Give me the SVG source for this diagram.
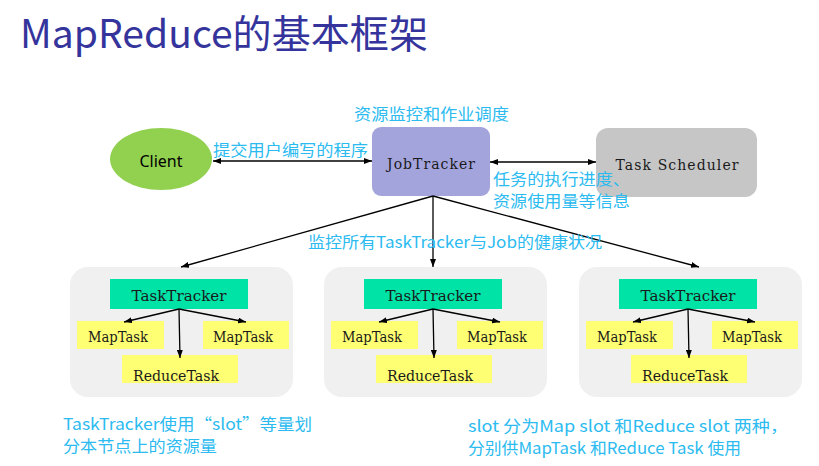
<svg xmlns="http://www.w3.org/2000/svg" width="819" height="466" viewBox="0 0 819 466">
<style>
.title{font-family:"Noto Sans CJK SC","Noto Sans",sans-serif;font-size:39px;fill:#34349c}
.note{font-family:"Noto Sans CJK SC",sans-serif;font-size:16px;fill:#2bbbf0}
.serif{font-family:"DejaVu Serif","Liberation Serif",serif;fill:#1a1a1a;text-anchor:middle}
.grp{fill:#f0f0f0}
.tt{fill:#00e3a7}
.task{fill:#ffff73}
.conn{stroke:#000;stroke-width:1.3;fill:none}
</style>
<defs>
<marker id="ah" viewBox="0 0 8 6" refX="8" refY="3" markerWidth="8" markerHeight="6" markerUnits="userSpaceOnUse" orient="auto-start-reverse">
<path d="M0,0 L8,3 L0,6 Z" fill="#000"/>
</marker>
</defs>
<rect width="819" height="466" fill="#fff"/>
<text class="title" x="20" y="48" textLength="408" lengthAdjust="spacingAndGlyphs">MapReduce的基本框架</text>

<g id="client">
<ellipse cx="161" cy="159" rx="51" ry="31" fill="#92d050"/>
<text x="161" y="167" text-anchor="middle" style="font-family:'Noto Sans','Liberation Sans',sans-serif;font-size:16px;fill:#000">Client</text>
</g>
<g id="jobtracker">
<rect x="372" y="127" width="118" height="69" rx="9" fill="#a4a4dd"/>
<text class="serif" x="431" y="169" font-size="14" textLength="88" lengthAdjust="spacing">JobTracker</text>
</g>
<g id="taskscheduler">
<rect x="596" y="128" width="161" height="69" rx="12" fill="#c6c6c6"/>
<text class="serif" x="677" y="170" font-size="14" textLength="123" lengthAdjust="spacing">Task Scheduler</text>
</g>

<g id="node1" transform="translate(70,0)">
<rect class="grp" x="0" y="267" width="223" height="130" rx="18"/>
<rect class="tt" x="40" y="279" width="138" height="30"/>
<text class="serif" x="109" y="301" font-size="15.5" textLength="95" lengthAdjust="spacingAndGlyphs">TaskTracker</text>
<rect class="task" x="7" y="321" width="87" height="28"/>
<text class="serif" x="48" y="342" font-size="15" textLength="60" lengthAdjust="spacingAndGlyphs">MapTask</text>
<rect class="task" x="133" y="321" width="86" height="28"/>
<text class="serif" x="173" y="342" font-size="15" textLength="60" lengthAdjust="spacingAndGlyphs">MapTask</text>
<rect class="task" x="52" y="355" width="116" height="28"/>
<text class="serif" x="106" y="381" font-size="15" textLength="86" lengthAdjust="spacingAndGlyphs">ReduceTask</text>
</g>
<g id="node2" transform="translate(324,0)">
<rect class="grp" x="0" y="267" width="223" height="130" rx="18"/>
<rect class="tt" x="40" y="279" width="138" height="30"/>
<text class="serif" x="109" y="301" font-size="15.5" textLength="95" lengthAdjust="spacingAndGlyphs">TaskTracker</text>
<rect class="task" x="7" y="321" width="87" height="28"/>
<text class="serif" x="48" y="342" font-size="15" textLength="60" lengthAdjust="spacingAndGlyphs">MapTask</text>
<rect class="task" x="133" y="321" width="86" height="28"/>
<text class="serif" x="173" y="342" font-size="15" textLength="60" lengthAdjust="spacingAndGlyphs">MapTask</text>
<rect class="task" x="52" y="355" width="116" height="28"/>
<text class="serif" x="106" y="381" font-size="15" textLength="86" lengthAdjust="spacingAndGlyphs">ReduceTask</text>
</g>
<g id="node3" transform="translate(579,0)">
<rect class="grp" x="0" y="267" width="223" height="130" rx="18"/>
<rect class="tt" x="40" y="279" width="138" height="30"/>
<text class="serif" x="109" y="301" font-size="15.5" textLength="95" lengthAdjust="spacingAndGlyphs">TaskTracker</text>
<rect class="task" x="7" y="321" width="87" height="28"/>
<text class="serif" x="48" y="342" font-size="15" textLength="60" lengthAdjust="spacingAndGlyphs">MapTask</text>
<rect class="task" x="133" y="321" width="86" height="28"/>
<text class="serif" x="173" y="342" font-size="15" textLength="60" lengthAdjust="spacingAndGlyphs">MapTask</text>
<rect class="task" x="52" y="355" width="116" height="28"/>
<text class="serif" x="106" y="381" font-size="15" textLength="86" lengthAdjust="spacingAndGlyphs">ReduceTask</text>
</g>

<g id="connectors" class="conn">
<line x1="213" y1="161" x2="372" y2="161" marker-start="url(#ah)" marker-end="url(#ah)"/>
<line x1="490" y1="162" x2="596" y2="162" marker-start="url(#ah)" marker-end="url(#ah)"/>
<line x1="433" y1="196" x2="181" y2="267" marker-end="url(#ah)"/>
<line x1="433" y1="196" x2="433" y2="267" marker-end="url(#ah)"/>
<line x1="433" y1="196" x2="699" y2="267" marker-end="url(#ah)"/>
<line x1="179" y1="309" x2="124" y2="322" marker-end="url(#ah)"/>
<line x1="179" y1="309" x2="180" y2="358" marker-end="url(#ah)"/>
<line x1="179" y1="309" x2="246" y2="322" marker-end="url(#ah)"/>
<line x1="433" y1="309" x2="379" y2="322" marker-end="url(#ah)"/>
<line x1="433" y1="309" x2="434" y2="358" marker-end="url(#ah)"/>
<line x1="433" y1="309" x2="500" y2="322" marker-end="url(#ah)"/>
<line x1="688" y1="309" x2="633" y2="322" marker-end="url(#ah)"/>
<line x1="688" y1="309" x2="689" y2="358" marker-end="url(#ah)"/>
<line x1="688" y1="309" x2="755" y2="322" marker-end="url(#ah)"/>
</g>

<g id="labels">
<text class="note" x="354" y="120" textLength="155" lengthAdjust="spacingAndGlyphs">资源监控和作业调度</text>
<text class="note" x="213" y="156" textLength="155" lengthAdjust="spacingAndGlyphs">提交用户编写的程序</text>
<text class="note" x="493" y="185" font-size="15" textLength="137" lengthAdjust="spacingAndGlyphs">任务的执行进度、</text>
<text class="note" x="493" y="207" font-size="15" textLength="137" lengthAdjust="spacingAndGlyphs">资源使用量等信息</text>
<text class="note" x="308" y="248" textLength="294" lengthAdjust="spacingAndGlyphs">监控所有TaskTracker与Job的健康状况</text>
<text class="note" x="63" y="430" font-size="15" textLength="249" lengthAdjust="spacingAndGlyphs">TaskTracker使用“slot”等量划</text>
<text class="note" x="63" y="452" font-size="15" textLength="154" lengthAdjust="spacingAndGlyphs">分本节点上的资源量</text>
<text class="note" x="468" y="432" textLength="320" lengthAdjust="spacingAndGlyphs">slot 分为Map slot 和Reduce slot 两种，</text>
<text class="note" x="468" y="454" textLength="273" lengthAdjust="spacingAndGlyphs">分别供MapTask 和Reduce Task 使用</text>
</g>
</svg>
